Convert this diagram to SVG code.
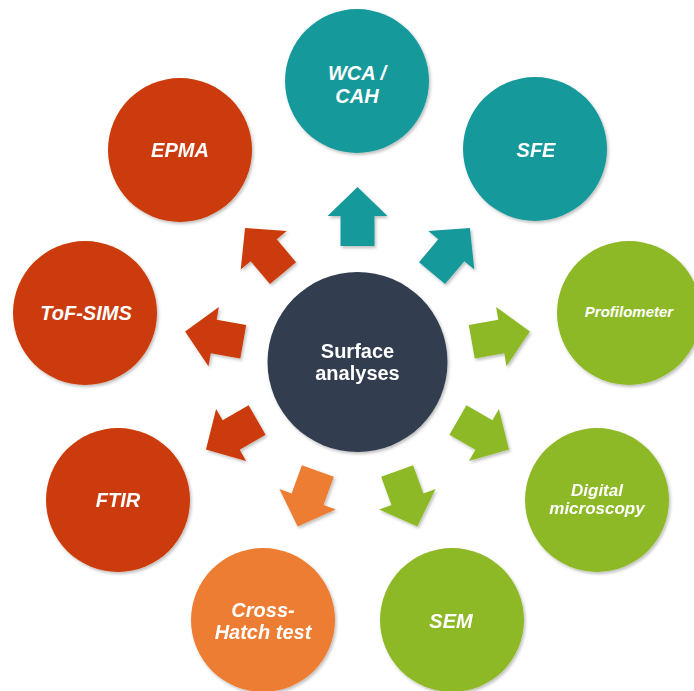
<svg xmlns="http://www.w3.org/2000/svg" width="694" height="691" viewBox="0 0 694 691">
<defs>
<filter id="sh" x="-20%" y="-20%" width="140%" height="140%">
<feDropShadow dx="1.5" dy="2" stdDeviation="1.5" flood-color="#000" flood-opacity="0.25"/>
</filter>
<polygon id="arr" points="-30,-17 0,-17 0,-30 29,0 0,30 0,17 -30,17"/>
<style>
.teal{fill:#16999A}
.red{fill:#CC3A07}
.green{fill:#8DB925}
.orange{fill:#ED7D31}
.dark{fill:#323E50}
.lbl{font-family:"Liberation Sans",Arial,sans-serif;font-weight:bold;font-style:italic;fill:#fff;text-anchor:middle}
.ctr{font-family:"Liberation Sans",Arial,sans-serif;font-weight:bold;fill:#fff;text-anchor:middle;font-size:20px}
</style>
</defs>
<rect width="694" height="691" fill="#fff"/>
<g id="connectors" filter="url(#sh)">
<use href="#arr" class="teal" transform="translate(357.5,216) rotate(-90)"/>
<use href="#arr" class="teal" transform="translate(451.3,250.2) rotate(-50)"/>
<use href="#arr" class="green" transform="translate(501.3,336.6) rotate(-10)"/>
<use href="#arr" class="green" transform="translate(483.9,435) rotate(30)"/>
<use href="#arr" class="green" transform="translate(407.4,499.2) rotate(70)"/>
<use href="#arr" class="orange" transform="translate(307.6,499.2) rotate(110)"/>
<use href="#arr" class="red" transform="translate(231.1,435) rotate(150)"/>
<use href="#arr" class="red" transform="translate(213.7,336.6) rotate(190)"/>
<use href="#arr" class="red" transform="translate(263.7,250.2) rotate(230)"/>
</g>
<g id="center">
<circle cx="357.5" cy="362" r="90" class="dark" filter="url(#sh)"/>
<text class="ctr" x="357.5" y="358">Surface</text>
<text class="ctr" x="357.5" y="380">analyses</text>
</g>
<g id="wca">
<circle cx="357" cy="81" r="72" class="teal" filter="url(#sh)"/>
<text class="lbl" font-size="20" x="357" y="80">WCA /</text>
<text class="lbl" font-size="20" x="357" y="103">CAH</text>
</g>
<g id="sfe">
<circle cx="535" cy="149" r="72" class="teal" filter="url(#sh)"/>
<text class="lbl" font-size="20" x="536" y="157">SFE</text>
</g>
<g id="profilometer">
<circle cx="629" cy="313" r="72" class="green" filter="url(#sh)"/>
<text class="lbl" font-size="15" x="629" y="317">Profilometer</text>
</g>
<g id="digital">
<circle cx="597" cy="500" r="72" class="green" filter="url(#sh)"/>
<text class="lbl" font-size="17" x="597" y="496">Digital</text>
<text class="lbl" font-size="17" x="597" y="514">microscopy</text>
</g>
<g id="sem">
<circle cx="452" cy="620" r="72" class="green" filter="url(#sh)"/>
<text class="lbl" font-size="20" x="451" y="628">SEM</text>
</g>
<g id="crosshatch">
<circle cx="263" cy="620" r="72" class="orange" filter="url(#sh)"/>
<text class="lbl" font-size="20" x="263" y="617">Cross-</text>
<text class="lbl" font-size="20" x="263" y="639">Hatch test</text>
</g>
<g id="ftir">
<circle cx="118" cy="500" r="72" class="red" filter="url(#sh)"/>
<text class="lbl" font-size="20" x="118" y="507">FTIR</text>
</g>
<g id="tofsims">
<circle cx="85" cy="313" r="72" class="red" filter="url(#sh)"/>
<text class="lbl" font-size="20" x="86" y="320">ToF-SIMS</text>
</g>
<g id="epma">
<circle cx="180" cy="150" r="72" class="red" filter="url(#sh)"/>
<text class="lbl" font-size="20" x="180" y="157">EPMA</text>
</g>
</svg>
